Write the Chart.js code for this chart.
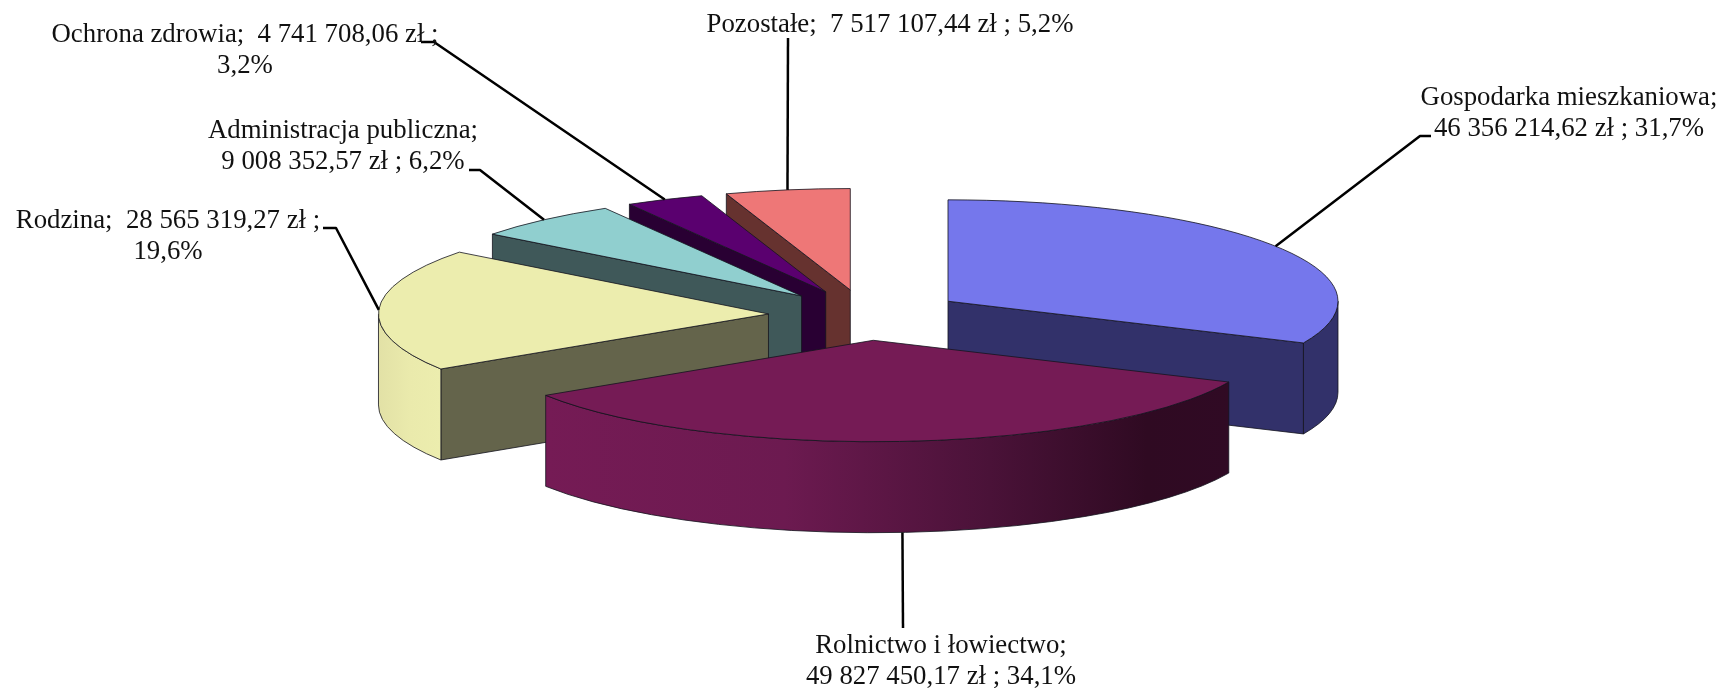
<!DOCTYPE html>
<html lang="pl">
<head>
<meta charset="utf-8">
<title>Wydatki</title>
<script src="https://cdn.jsdelivr.net/npm/chart.js@4/dist/chart.umd.min.js"></script>
<style>
    html, body { margin: 0; padding: 0; background: #fff; }
    canvas { display: block; }
</style>
</head>
<body>
<canvas id="pieChart" width="1726" height="688"></canvas>
<script>
// Data
const categories = ['Gospodarka mieszkaniowa', 'Rolnictwo i łowiectwo', 'Rodzina', 'Administracja publiczna', 'Ochrona zdrowia', 'Pozostałe'];
const values = [46356214.62, 49827450.17, 28565319.27, 9008352.57, 4741708.06, 7517107.44];
const percents = ['31,7%', '34,1%', '19,6%', '6,2%', '3,2%', '5,2%'];

// Colours: top face, straight side face, outer rim gradient
const topColors = ['#7577ec', '#751b55', '#ecedae', '#90cfcf', '#5a006f', '#ee7777'];
const sideColors = ['#32316a', '#3a0d2b', '#64644b', '#3f5859', '#290033', '#66322f'];
const rimStops = [
    [[0, '#32316a'], [1, '#32316a']],
    [[0, '#751b55'], [0.35, '#6c1a50'], [0.65, '#4a1238'], [0.88, '#2f0a22'], [1, '#300a24']],
    [[0, '#e2e1a6'], [0.5, '#eaeaac'], [1, '#ecedae']],
    [[0, '#3f5859'], [1, '#3f5859']],
    [[0, '#290033'], [1, '#290033']],
    [[0, '#66322f'], [1, '#66322f']]
];

// Label layout
const labelWrap = ['name', 'name', 'value', 'name', 'value', 'none'];
const labelCenters = [[1569, 105], [941, 653], [168, 228], [343, 138], [245, 42], [890, 32]];
const leaderEnds = [[[1420, 136], [1431, 136]], [[903, 628]], [[336, 228], [323, 228]], [[480, 170], [469, 170]], [[434, 42], [421, 42]], [[788, 38]]];

const RADIUS = 390;
const EXPLODE = 97.6;
const TILT = 0.26;
const DEPTH = 91;
const LINE_HEIGHT = 31;
const LABEL_FONT = '26.8px "Liberation Serif"';
const EDGE_COLOR = 'rgba(20, 20, 30, 0.8)';

// Polish money format, groups split with a space
function formatMoney(value) {
    const parts = value.toFixed(2).split('.');
    return parts[0].replace(/\B(?=(\d{3})+$)/g, ' ') + ',' + parts[1] + ' zł';
}

function labelLines(i) {
    const money = formatMoney(values[i]);
    if (labelWrap[i] === 'name') return [categories[i] + ';', money + ' ; ' + percents[i]];
    if (labelWrap[i] === 'value') return [categories[i] + ';  ' + money + ' ;', percents[i]];
    return [categories[i] + ';  ' + money + ' ; ' + percents[i]];
}

// Slice centre after explosion, in flat pie coordinates
function sliceApex(arc) {
    const mid = (arc.startAngle + arc.endAngle) / 2;
    return {
        x: arc.x + Math.cos(mid) * EXPLODE,
        y: arc.y + Math.sin(mid) * EXPLODE * TILT
    };
}

function drawWall(ctx, apex, angle, r, color) {
    const px = apex.x + Math.cos(angle) * r;
    const py = apex.y + Math.sin(angle) * r * TILT;
    ctx.beginPath();
    ctx.moveTo(apex.x, apex.y);
    ctx.lineTo(px, py);
    ctx.lineTo(px, py + DEPTH);
    ctx.lineTo(apex.x, apex.y + DEPTH);
    ctx.closePath();
    ctx.fillStyle = color;
    ctx.fill();
    ctx.stroke();
}

function drawRim(ctx, apex, from, to, r, stops) {
    const ry = r * TILT;
    const x0 = apex.x + Math.cos(to) * r;
    const x1 = apex.x + Math.cos(from) * r;
    const grad = ctx.createLinearGradient(x0, 0, x1, 0);
    stops.forEach(s => grad.addColorStop(s[0], s[1]));
    ctx.beginPath();
    ctx.ellipse(apex.x, apex.y, r, ry, 0, from, to);
    ctx.ellipse(apex.x, apex.y + DEPTH, r, ry, 0, to, from, true);
    ctx.closePath();
    ctx.fillStyle = grad;
    ctx.fill();
    ctx.stroke();
}

function drawSlice(ctx, arc, i) {
    const apex = sliceApex(arc);
    const r = arc.outerRadius;
    ctx.lineWidth = 1;
    ctx.strokeStyle = EDGE_COLOR;
    ctx.lineJoin = 'round';

    // Only faces turned to the viewer are visible
    if (Math.cos(arc.startAngle) < 0) drawWall(ctx, apex, arc.startAngle, r, sideColors[i]);
    if (Math.cos(arc.endAngle) > 0) drawWall(ctx, apex, arc.endAngle, r, sideColors[i]);
    const from = Math.max(arc.startAngle, 0);
    const to = Math.min(arc.endAngle, Math.PI);
    if (to > from) drawRim(ctx, apex, from, to, r, rimStops[i]);

    // Top face
    ctx.beginPath();
    ctx.moveTo(apex.x, apex.y);
    ctx.ellipse(apex.x, apex.y, r, r * TILT, 0, arc.startAngle, arc.endAngle);
    ctx.closePath();
    ctx.fillStyle = arc.options.backgroundColor;
    ctx.fill();
    ctx.stroke();
}

function drawLeader(ctx, arc, i) {
    const apex = sliceApex(arc);
    const mid = (arc.startAngle + arc.endAngle) / 2;
    const r = arc.outerRadius;
    let y = apex.y + Math.sin(mid) * r * TILT;
    // Front slice: the line leaves from the bottom of the rim
    if (Math.sin(mid) > 0.5) y += DEPTH;
    ctx.beginPath();
    ctx.moveTo(apex.x + Math.cos(mid) * r, y);
    leaderEnds[i].forEach(p => ctx.lineTo(p[0], p[1]));
    ctx.lineWidth = 2.5;
    ctx.strokeStyle = '#000';
    ctx.stroke();
}

const pie3dPlugin = {
    id: 'pie3d',
    beforeDatasetsDraw(chart) {
        const ctx = chart.ctx;
        const arcs = chart.getDatasetMeta(0).data;
        // Back slices first, the front slice last
        const order = arcs.map((arc, i) => i).sort((a, b) => {
            const midA = (arcs[a].startAngle + arcs[a].endAngle) / 2;
            const midB = (arcs[b].startAngle + arcs[b].endAngle) / 2;
            return Math.sin(midA) - Math.sin(midB);
        });
        ctx.save();
        order.forEach(i => drawSlice(ctx, arcs[i], i));
        arcs.forEach((arc, i) => drawLeader(ctx, arc, i));

        ctx.font = LABEL_FONT;
        ctx.fillStyle = '#111';
        ctx.textAlign = 'center';
        ctx.textBaseline = 'alphabetic';
        categories.forEach((name, i) => {
            labelLines(i).forEach((line, n) => {
                ctx.fillText(line, labelCenters[i][0], labelCenters[i][1] + n * LINE_HEIGHT);
            });
        });
        ctx.restore();
        return false;
    }
};

new Chart(document.getElementById('pieChart').getContext('2d'), {
    type: 'pie',
    data: {
        labels: categories,
        datasets: [{
            data: values,
            backgroundColor: topColors,
            radius: RADIUS
        }]
    },
    options: {
        responsive: false,
        animation: false,
        layout: { padding: { left: 6, bottom: 58 } },
        plugins: {
            legend: { display: false },
            tooltip: { enabled: false }
        }
    },
    plugins: [pie3dPlugin]
});
</script>
</body>
</html>
